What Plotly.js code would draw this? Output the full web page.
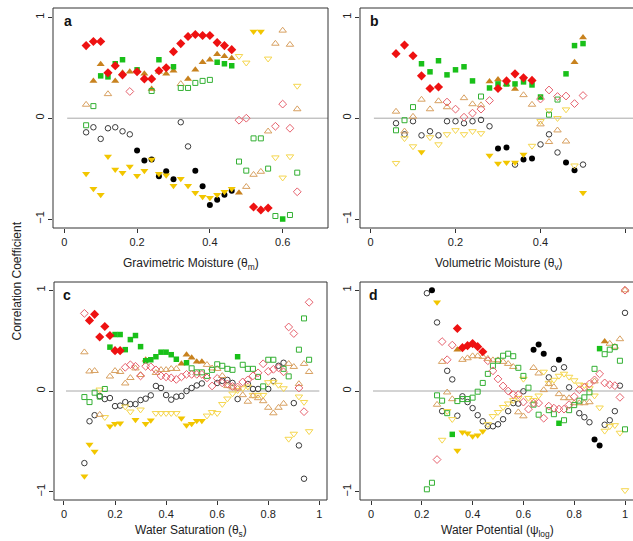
<!DOCTYPE html>
<html>
<head>
<meta charset="utf-8">
<script src="https://cdn.plot.ly/plotly-3.0.1.min.js"></script>
<style>html,body{margin:0;padding:0;background:#fff;}#chart{width:633px;height:541px;}</style>
</head>
<body>
<div id="chart"></div>
<script>
// ---------------- DATA (x, correlation) ----------------
// Panel a : Gravimetric moisture
const a_redF = [[0.06,0.72],[0.08,0.76],[0.10,0.76],[0.12,0.45],[0.14,0.52],[0.16,0.43],[0.20,0.46],[0.22,0.39],[0.24,0.39],[0.26,0.47],[0.28,0.50],[0.30,0.66],[0.32,0.74],[0.34,0.81],[0.36,0.83],[0.38,0.82],[0.40,0.82],[0.42,0.75],[0.44,0.72],[0.46,0.68],[0.52,-0.88],[0.54,-0.91],[0.56,-0.89]];
const a_redO = [[0.18,0.265],[0.48,-0.02],[0.50,0.0],[0.58,-0.08],[0.60,0.14],[0.62,-0.10],[0.64,-0.73]];
const a_greenF = [[0.10,0.42],[0.12,0.41],[0.14,0.54],[0.16,0.58],[0.20,0.48],[0.26,0.58],[0.30,0.51],[0.42,0.555],[0.44,0.54],[0.46,0.52],[0.60,-1.0]];
const a_greenO = [[0.06,-0.07],[0.08,0.12],[0.24,0.27],[0.32,0.30],[0.34,0.30],[0.36,0.35],[0.38,0.37],[0.40,0.38],[0.48,-0.43],[0.50,-0.52],[0.52,-0.20],[0.54,-0.20],[0.56,-0.50],[0.58,-0.97],[0.62,-0.96],[0.64,-0.54]];
const a_brownF = [[0.08,0.37],[0.10,0.535],[0.14,0.37],[0.16,0.45],[0.18,0.46],[0.20,0.47],[0.22,0.44],[0.24,0.29],[0.26,0.46],[0.28,0.44],[0.30,0.47],[0.34,0.39],[0.36,0.48],[0.38,0.555],[0.40,0.58],[0.42,0.635],[0.44,0.615],[0.46,0.595],[0.48,-0.74]];
const a_tanO = [[0.06,0.135],[0.12,0.24],[0.32,0.34],[0.50,-0.68],[0.52,-0.56],[0.54,-0.53],[0.56,-0.13],[0.58,0.74],[0.60,0.87],[0.62,0.73],[0.64,0.09]];
const a_yellowF = [[0.06,-0.55],[0.08,-0.70],[0.10,-0.76],[0.12,-0.38],[0.14,-0.51],[0.16,-0.54],[0.18,-0.48],[0.20,-0.57],[0.22,-0.52],[0.24,-0.41],[0.26,-0.55],[0.28,-0.565],[0.30,-0.67],[0.32,-0.60],[0.34,-0.67],[0.36,-0.74],[0.38,-0.78],[0.40,-0.79],[0.42,-0.76],[0.44,-0.73],[0.46,-0.70],[0.52,0.86],[0.54,0.86]];
const a_yellowO = [[0.48,0.615],[0.50,0.55],[0.56,0.59],[0.58,-0.39],[0.60,-0.59],[0.62,-0.38],[0.64,0.32]];
const a_blackF = [[0.20,-0.32],[0.22,-0.42],[0.24,-0.41],[0.26,-0.575],[0.28,-0.525],[0.30,-0.605],[0.36,-0.52],[0.38,-0.675],[0.40,-0.86],[0.42,-0.81],[0.44,-0.76],[0.46,-0.72]];
const a_greyO = [[0.06,-0.14],[0.08,-0.09],[0.10,-0.205],[0.12,-0.10],[0.14,-0.09],[0.16,-0.13],[0.18,-0.16],[0.32,-0.04],[0.34,-0.28]];

// Panel b : Volumetric moisture
const b_redF = [[0.06,0.64],[0.08,0.725],[0.10,0.62],[0.12,0.42],[0.14,0.295],[0.16,0.31],[0.30,0.295],[0.32,0.37],[0.34,0.44],[0.36,0.40],[0.38,0.375]];
const b_redO = [[0.18,0.16],[0.20,0.09],[0.22,0.01],[0.24,0.05],[0.26,0.09],[0.28,0.175],[0.40,0.19],[0.42,0.28],[0.44,0.215],[0.46,0.22],[0.48,0.145],[0.50,0.225]];
const b_greenF = [[0.12,0.54],[0.14,0.46],[0.16,0.57],[0.18,0.43],[0.20,0.48],[0.22,0.51],[0.24,0.37],[0.28,0.30],[0.30,0.34],[0.32,0.34],[0.34,0.34],[0.36,0.36],[0.38,0.33],[0.40,0.21],[0.46,0.44],[0.48,0.72],[0.50,0.74]];
const b_greenO = [[0.06,-0.12],[0.08,-0.02],[0.10,0.11],[0.26,0.215],[0.42,0.035],[0.44,0.185]];
const b_brownF = [[0.28,0.365],[0.30,0.385],[0.32,0.335],[0.34,0.29],[0.48,0.555],[0.50,0.80]];
const b_tanO = [[0.06,0.066],[0.08,-0.13],[0.10,0.016],[0.12,0.185],[0.14,0.09],[0.16,0.17],[0.18,0.11],[0.22,0.20],[0.24,0.14],[0.26,0.13],[0.36,0.23],[0.38,0.135],[0.40,-0.06],[0.42,-0.235],[0.44,-0.12],[0.46,-0.23]];
const b_yellowF = [[0.12,-0.335],[0.28,-0.37],[0.30,-0.45],[0.32,-0.44],[0.34,-0.44],[0.36,-0.36],[0.50,-0.74]];
const b_yellowO = [[0.06,-0.445],[0.08,-0.20],[0.10,-0.28],[0.14,-0.19],[0.16,-0.26],[0.18,-0.16],[0.20,-0.12],[0.22,-0.16],[0.24,-0.13],[0.26,-0.15],[0.38,-0.275],[0.40,-0.03],[0.42,0.076],[0.44,0.0],[0.46,0.086],[0.48,-0.47]];
const b_blackF = [[0.30,-0.30],[0.32,-0.29],[0.36,-0.41],[0.38,-0.40],[0.46,-0.44],[0.48,-0.515]];
const b_greyO = [[0.06,-0.05],[0.08,-0.16],[0.10,-0.03],[0.12,-0.17],[0.14,-0.13],[0.16,-0.17],[0.18,-0.03],[0.20,-0.03],[0.22,-0.05],[0.24,-0.03],[0.26,-0.017],[0.28,-0.08],[0.34,-0.46],[0.40,-0.26],[0.42,-0.16],[0.44,-0.34],[0.50,-0.46]];

// Panel c : Water saturation
const c_redF = [[0.10,0.70],[0.12,0.76],[0.14,0.535],[0.16,0.64],[0.18,0.55],[0.20,0.40],[0.22,0.40]];
const c_redO = [[0.08,0.77],[0.24,0.235],[0.26,0.26],[0.28,0.245],[0.30,0.15],[0.32,0.245],[0.34,0.24],[0.36,0.21],[0.38,0.15],[0.40,0.14],[0.42,0.13],[0.44,0.115],[0.46,0.14],[0.48,0.165],[0.50,0.165],[0.52,0.165],[0.54,0.165],[0.56,0.13],[0.58,0.05],[0.60,0.125],[0.62,0.08],[0.64,0.07],[0.66,0.045],[0.68,0.04],[0.70,0.09],[0.72,0.11],[0.74,0.15],[0.76,0.18],[0.78,0.27],[0.80,0.195],[0.82,0.215],[0.84,0.23],[0.86,0.19],[0.88,0.635],[0.90,0.57],[0.92,0.03],[0.94,-0.205],[0.96,0.88]];
const c_greenF = [[0.18,0.435],[0.20,0.56],[0.22,0.56],[0.24,0.41],[0.26,0.51],[0.28,0.55],[0.30,0.44],[0.32,0.30],[0.34,0.31],[0.36,0.34],[0.38,0.385],[0.40,0.385],[0.42,0.36],[0.44,0.315],[0.48,0.28],[0.68,0.34]];
const c_greenO = [[0.08,-0.06],[0.10,-0.11],[0.12,-0.017],[0.14,-0.056],[0.16,0.02],[0.50,0.225],[0.52,0.185],[0.54,0.185],[0.56,0.15],[0.58,0.21],[0.60,0.265],[0.62,0.25],[0.64,0.22],[0.66,0.21],[0.70,0.26],[0.72,0.22],[0.74,0.22],[0.76,0.14],[0.78,0.046],[0.80,0.31],[0.82,0.31],[0.86,0.22],[0.88,0.145],[0.92,0.41],[0.94,0.72],[0.96,0.31]];
const c_brownF = [[0.32,0.31],[0.46,0.27],[0.48,0.36],[0.50,0.33],[0.52,0.29],[0.54,0.29]];
const c_tanO = [[0.08,0.385],[0.10,0.195],[0.12,0.20],[0.14,-0.235],[0.18,0.145],[0.20,0.20],[0.22,0.19],[0.24,0.076],[0.26,0.13],[0.28,0.225],[0.30,0.16],[0.36,0.18],[0.38,0.21],[0.40,0.21],[0.42,0.22],[0.44,0.22],[0.56,0.26],[0.58,0.225],[0.60,0.22],[0.62,0.15],[0.64,0.05],[0.66,0.036],[0.68,0.026],[0.70,-0.04],[0.72,-0.105],[0.74,-0.05],[0.76,-0.07],[0.78,-0.10],[0.80,-0.165],[0.82,-0.22],[0.84,-0.165],[0.86,-0.125],[0.88,0.27],[0.90,0.24],[0.92,0.07],[0.94,0.27],[0.96,0.19]];
const c_yellowF = [[0.08,-0.845],[0.10,-0.53],[0.12,-0.60],[0.18,-0.35],[0.20,-0.325],[0.22,-0.32],[0.28,-0.285],[0.32,-0.325],[0.34,-0.29],[0.46,-0.27],[0.48,-0.34],[0.50,-0.325],[0.52,-0.295],[0.54,-0.295]];
const c_yellowO = [[0.14,0.013],[0.16,-0.26],[0.24,-0.155],[0.26,-0.205],[0.30,-0.185],[0.36,-0.22],[0.38,-0.22],[0.40,-0.22],[0.42,-0.22],[0.44,-0.22],[0.56,-0.245],[0.58,-0.21],[0.60,-0.22],[0.62,-0.13],[0.64,-0.076],[0.66,-0.026],[0.68,0.007],[0.70,0.026],[0.72,0.043],[0.74,-0.04],[0.76,-0.04],[0.78,-0.04],[0.80,0.086],[0.82,0.09],[0.84,0.06],[0.86,0.026],[0.88,-0.475],[0.90,-0.425],[0.92,-0.056],[0.94,-0.11],[0.96,-0.40]];
const c_blackF = [];
const c_greyO = [[0.08,-0.715],[0.10,-0.30],[0.12,-0.24],[0.14,-0.05],[0.16,-0.08],[0.18,-0.07],[0.20,-0.15],[0.22,-0.145],[0.24,-0.11],[0.26,-0.13],[0.28,-0.13],[0.30,-0.09],[0.32,-0.076],[0.34,-0.043],[0.36,0.05],[0.38,0.03],[0.40,-0.04],[0.42,-0.086],[0.44,-0.056],[0.46,-0.05],[0.48,0.0],[0.50,0.03],[0.52,0.055],[0.54,0.075],[0.60,0.08],[0.62,0.10],[0.64,0.11],[0.66,0.08],[0.68,-0.08],[0.72,0.07],[0.74,0.02],[0.76,0.02],[0.80,0.02],[0.82,0.10],[0.84,0.25],[0.86,0.28],[0.90,-0.12],[0.92,-0.54],[0.94,-0.87]];

// Panel d : Water potential
const d_redF = [[0.34,0.62],[0.36,0.43],[0.38,0.45],[0.40,0.47],[0.42,0.44],[0.44,0.39]];
const d_redO = [[0.26,-0.68],[0.28,0.49],[0.30,0.31],[0.32,0.455],[0.46,0.30],[0.48,0.20],[0.50,0.12],[0.52,0.05],[0.54,0.0],[0.56,-0.036],[0.58,-0.036],[0.60,-0.11],[0.62,-0.18],[0.64,-0.12],[0.66,-0.12],[0.68,-0.27],[0.70,-0.15],[0.72,-0.17],[0.74,-0.18],[0.76,-0.18],[0.78,-0.135],[0.80,-0.056],[0.82,0.013],[0.84,0.036],[0.86,0.07],[0.88,0.11],[0.90,0.17],[0.92,0.08],[0.94,0.063],[0.96,0.053],[0.98,-0.063],[1.00,1.0]];
const d_greenF = [[0.32,-0.43],[0.74,-0.32],[0.90,0.42]];
const d_greenO = [[0.22,-0.975],[0.24,-0.91],[0.26,-0.043],[0.28,-0.096],[0.30,-0.22],[0.34,-0.10],[0.36,-0.08],[0.38,-0.08],[0.40,-0.066],[0.42,-0.007],[0.44,0.08],[0.46,0.17],[0.48,0.25],[0.50,0.30],[0.52,0.35],[0.54,0.37],[0.56,0.345],[0.58,0.23],[0.60,0.15],[0.62,0.033],[0.64,-0.135],[0.66,-0.235],[0.70,-0.19],[0.72,-0.23],[0.76,-0.29],[0.78,-0.19],[0.80,-0.14],[0.82,-0.096],[0.84,-0.063],[0.86,-0.013],[0.88,0.22],[0.92,0.365],[0.94,0.41],[0.96,0.435],[0.98,0.30],[1.00,-0.38]];
const d_brownF = [[0.34,0.41],[0.92,0.49]];
const d_tanO = [[0.26,-0.135],[0.28,0.29],[0.30,-0.013],[0.32,-0.08],[0.36,0.31],[0.38,0.326],[0.40,0.346],[0.42,0.346],[0.44,0.34],[0.46,0.32],[0.48,0.306],[0.50,0.306],[0.52,0.29],[0.54,0.27],[0.56,0.24],[0.58,-0.21],[0.60,-0.25],[0.64,0.23],[0.66,0.175],[0.68,0.01],[0.70,0.07],[0.72,0.04],[0.74,-0.03],[0.76,-0.07],[0.78,-0.07],[0.80,-0.12],[0.82,-0.12],[0.84,-0.12],[0.86,-0.11],[0.88,0.096],[0.94,0.47],[0.96,0.44],[0.98,0.515],[1.00,1.0]];
const d_yellowF = [[0.26,0.88],[0.34,-0.59],[0.36,-0.41],[0.38,-0.42],[0.40,-0.45],[0.42,-0.44],[0.44,-0.40]];
const d_yellowO = [[0.28,-0.485],[0.30,-0.20],[0.32,-0.28],[0.46,-0.33],[0.48,-0.25],[0.50,-0.21],[0.52,-0.16],[0.54,-0.125],[0.56,-0.092],[0.58,-0.07],[0.60,0.12],[0.62,-0.07],[0.64,-0.09],[0.66,-0.046],[0.68,0.19],[0.70,0.08],[0.72,0.11],[0.74,0.15],[0.76,0.17],[0.78,0.14],[0.80,0.105],[0.82,0.063],[0.84,0.056],[0.86,0.026],[0.88,-0.046],[0.90,-0.165],[0.92,-0.395],[0.94,-0.35],[0.96,-0.34],[0.98,-0.415],[1.00,-0.985]];
const d_blackF = [[0.24,1.0],[0.64,0.41],[0.66,0.46],[0.68,0.37],[0.74,0.31],[0.88,-0.48],[0.90,-0.54]];
const d_greyO = [[0.22,0.97],[0.26,0.68],[0.28,-0.20],[0.30,0.20],[0.32,0.115],[0.34,-0.245],[0.36,-0.053],[0.38,-0.11],[0.40,-0.17],[0.42,-0.24],[0.44,-0.30],[0.46,-0.35],[0.48,-0.35],[0.50,-0.33],[0.52,-0.28],[0.54,-0.20],[0.56,-0.12],[0.58,-0.125],[0.60,-0.003],[0.70,0.135],[0.72,0.22],[0.76,0.235],[0.78,0.036],[0.82,-0.22],[0.84,-0.26],[0.86,-0.31],[0.92,-0.335],[0.94,-0.29],[0.96,-0.20],[0.98,0.053],[1.00,0.775]];

const panelLetters = ['a','b','c','d'];
const xTitles = ['Gravimetric Moisture (θ<sub>m</sub>)','Volumetric Moisture (θ<sub>v</sub>)','Water Saturation (θ<sub>s</sub>)','Water Potential (ψ<sub>log</sub>)'];
const xTicksA = [0,0.2,0.4,0.6];
const xTicksC = [0,0.2,0.4,0.6,0.8,1];
const yTicks = [-1,0,1];
const yTickText = ['\u22121','0','1'];
const yTitle = 'Correlation Coefficient';

// ---------------- STYLES ----------------
const styles = {
  redF:    {symbol:'diamond',            color:'#ee1111', size:7},
  redO:    {symbol:'diamond-open',       color:'#e6606c', size:6},
  greenF:  {symbol:'square',             color:'#19c019', size:5.5},
  greenO:  {symbol:'square-open',        color:'#33b033', size:5},
  brownF:  {symbol:'triangle-up',        color:'#c8821e', size:7},
  tanO:    {symbol:'triangle-up-open',   color:'#d8a060', size:6.5},
  yellowF: {symbol:'triangle-down',      color:'#f2c600', size:7},
  yellowO: {symbol:'triangle-down-open', color:'#f5d64e', size:6.5},
  blackF:  {symbol:'circle',             color:'#000000', size:6},
  greyO:   {symbol:'circle-open',        color:'#3a3a3a', size:5.5}
};
const order = ['greyO','blackF','yellowO','yellowF','tanO','brownF','greenO','greenF','redO','redF'];
const panels = [
  {xa:'x', ya:'y', d:{redF:a_redF,redO:a_redO,greenF:a_greenF,greenO:a_greenO,brownF:a_brownF,tanO:a_tanO,yellowF:a_yellowF,yellowO:a_yellowO,blackF:a_blackF,greyO:a_greyO}},
  {xa:'x2',ya:'y2',d:{redF:b_redF,redO:b_redO,greenF:b_greenF,greenO:b_greenO,brownF:b_brownF,tanO:b_tanO,yellowF:b_yellowF,yellowO:b_yellowO,blackF:b_blackF,greyO:b_greyO}},
  {xa:'x3',ya:'y3',d:{redF:c_redF,redO:c_redO,greenF:c_greenF,greenO:c_greenO,brownF:c_brownF,tanO:c_tanO,yellowF:c_yellowF,yellowO:c_yellowO,blackF:c_blackF,greyO:c_greyO}},
  {xa:'x4',ya:'y4',d:{redF:d_redF,redO:d_redO,greenF:d_greenF,greenO:d_greenO,brownF:d_brownF,tanO:d_tanO,yellowF:d_yellowF,yellowO:d_yellowO,blackF:d_blackF,greyO:d_greyO}}
];

const traces = [];
panels.forEach(p => {
  order.forEach(k => {
    const s = styles[k], pts = p.d[k];
    if (!pts.length) return;
    traces.push({
      type:'scatter', mode:'markers', xaxis:p.xa, yaxis:p.ya, showlegend:false, hoverinfo:'skip',
      x: pts.map(q=>q[0]), y: pts.map(q=>q[1]),
      marker:{symbol:s.symbol, size:s.size, color:s.color, line:{color:s.color, width: s.symbol.indexOf('open')>=0 ? 1 : 0}}
    });
  });
});

// ---------------- LAYOUT ----------------
const W=633, H=541;
const PX = v => v/W, PY = v => 1 - v/H;
const FONT = 'Liberation Sans, Arial, Helvetica, sans-serif';
const tickFont = {family:FONT, size:11, color:'#222'};

function xax(dom, rng, ticks){
  return {domain:dom, range:rng, tickmode:'array', tickvals:ticks, ticktext:ticks.map(String),
    ticks:'outside', ticklen:4, tickwidth:1, tickcolor:'#333', showgrid:false, zeroline:false,
    showline:false, tickfont:tickFont, fixedrange:true};
}
function yax(dom, rng){
  return {domain:dom, range:rng, tickmode:'array', tickvals:yTicks, ticktext:yTickText, tickangle:-90,
    ticks:'outside', ticklen:4, tickwidth:1, tickcolor:'#333', showgrid:false, zeroline:false,
    showline:false, tickfont:tickFont, fixedrange:true};
}

const layout = {
  width:W, height:H, margin:{l:0,r:0,t:0,b:0}, paper_bgcolor:'#fff', plot_bgcolor:'#fff',
  font:{family:FONT, color:'#222'},
  xaxis:  xax([PX(53),PX(328)], [-0.031,0.7245], xTicksA),
  yaxis:  yax([PY(228),PY(8)], [-1.089,1.093]),
  xaxis2: xax([PX(360),1], [-0.0247,0.6176], xTicksA),
  yaxis2: yax([PY(228),PY(8)], [-1.089,1.093]),
  xaxis3: xax([PX(54),PX(327)], [-0.039,1.030], xTicksC),
  yaxis3: yax([PY(500),PY(282)], [-1.081,1.081]),
  xaxis4: xax([PX(360),1], [-0.0433,1.0315], xTicksC),
  yaxis4: yax([PY(500),PY(282)], [-1.081,1.081]),
  shapes: [], annotations: []
};
layout.yaxis.anchor='x'; layout.xaxis.anchor='y';
layout.yaxis2.anchor='x2'; layout.xaxis2.anchor='y2';
layout.yaxis3.anchor='x3'; layout.xaxis3.anchor='y3';
layout.yaxis4.anchor='x4'; layout.xaxis4.anchor='y4';

const frameLine = {color:'#333', width:1};
const zeroLine = {color:'#a8a8a8', width:1};
const axN = ['', '2', '3', '4'];
const zeroEnds = [0.7245, 0.6176, 1.0, 1.0315];
axN.forEach((n,i) => {
  const xr = 'x'+n+' domain', yr = 'y'+n+' domain';
  layout.shapes.push({type:'line', xref:'x'+n, yref:'y'+n, x0:0.008, x1:zeroEnds[i], y0:0, y1:0, line:zeroLine, layer:'below'});
  if (i===0 || i===2) {
    layout.shapes.push({type:'rect', xref:xr, yref:yr, x0:0, x1:1, y0:0, y1:1, line:frameLine});
  } else {
    layout.shapes.push({type:'line', xref:xr, yref:yr, x0:0, x1:1, y0:1, y1:1, line:frameLine});
    layout.shapes.push({type:'line', xref:xr, yref:yr, x0:0, x1:1, y0:0, y1:0, line:frameLine});
    layout.shapes.push({type:'line', xref:xr, yref:yr, x0:0, x1:0, y0:0, y1:1, line:frameLine});
  }
});

const letterPos = [[68,21],[374,21],[67,295],[373,295]];
letterPos.forEach((p,i) => layout.annotations.push({xref:'paper', yref:'paper', x:PX(p[0]), y:PY(p[1]), text:'<b>'+panelLetters[i]+'</b>', showarrow:false, xanchor:'center', yanchor:'middle', font:{family:FONT, size:14, color:'#111'}}));
const titlePos = [[190.5,264],[499,264],[190.5,531],[497,531]];
titlePos.forEach((p,i) => layout.annotations.push({xref:'paper', yref:'paper', x:PX(p[0]), y:PY(p[1]), text:xTitles[i], showarrow:false, xanchor:'center', yanchor:'middle', font:{family:FONT, size:12, color:'#222'}}));
layout.annotations.push({xref:'paper', yref:'paper', x:PX(16.5), y:PY(281), text:yTitle, textangle:-90, showarrow:false, xanchor:'center', yanchor:'middle', font:{family:FONT, size:12, color:'#222'}});

Plotly.newPlot('chart', traces, layout, {displayModeBar:false, staticPlot:true});
</script>
</body>
</html>
